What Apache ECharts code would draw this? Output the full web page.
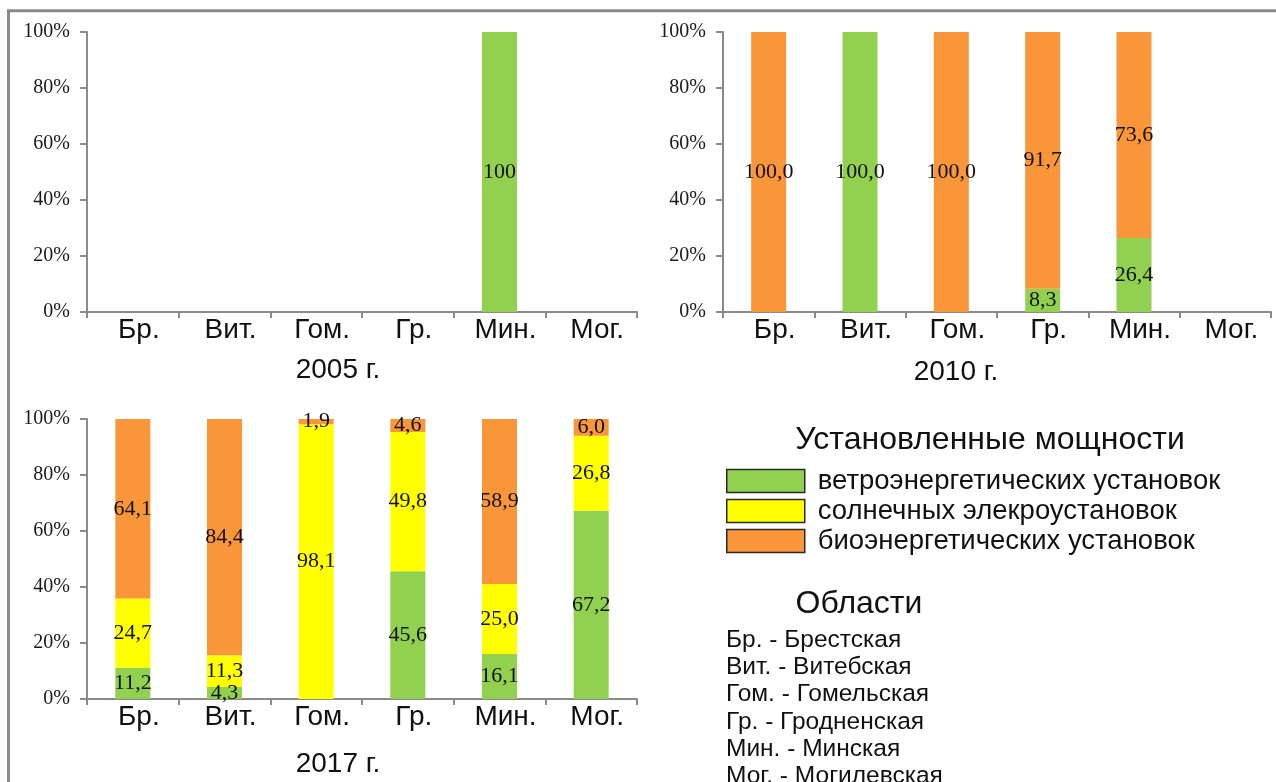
<!DOCTYPE html>
<html>
<head>
<meta charset="utf-8">
<script src="https://cdn.jsdelivr.net/npm/echarts@6/dist/echarts.min.js"></script>
<style>
  html, body { margin: 0; padding: 0; background: #fff; }
  #chart { width: 1276px; height: 782px; }
</style>
</head>
<body>
<div id="chart"></div>
<script>
const regions = ['Бр.', 'Вит.', 'Гом.', 'Гр.', 'Мин.', 'Мог.']
const seriesNames = ['ветроэнергетических установок', 'солнечных элекроустановок', 'биоэнергетических установок']
const years = ['2005 г.', '2010 г.', '2017 г.']
const yTickValues = [0, 20, 40, 60, 80, 100]

// shares, %
const wind2005 = [null, null, null, null, 100, null]
const solar2005 = [null, null, null, null, null, null]
const bio2005 = [null, null, null, null, null, null]

const wind2010 = [null, 100, null, 8.3, 26.4, null]
const solar2010 = [null, null, null, null, null, null]
const bio2010 = [100, null, 100, 91.7, 73.6, null]

const wind2017 = [11.2, 4.3, null, 45.6, 16.1, 67.2]
const solar2017 = [24.7, 11.3, 98.1, 49.8, 25.0, 26.8]
const bio2017 = [64.1, 84.4, 1.9, 4.6, 58.9, 6.0]

const regionNames = [
  'Бр. - Брестская',
  'Вит. - Витебская',
  'Гом. - Гомельская',
  'Гр. - Гродненская',
  'Мин. - Минская',
  'Мог. - Могилевская'
]

const colors = ['#92D050', '#FFFF00', '#F9963A']
const SANS = '"Liberation Sans", Arial, sans-serif'
const SERIF = '"Liberation Serif", "Times New Roman", serif'
const axisColor = '#8a8a8a'

const yearData = [
  { series: [wind2005, solar2005, bio2005], decimals: 0 },
  { series: [wind2010, solar2010, bio2010], decimals: 1 },
  { series: [wind2017, solar2017, bio2017], decimals: 1 }
]

const grids = [
  { left: 87, top: 32, width: 550, height: 280 },
  { left: 723, top: 32, width: 548, height: 280 },
  { left: 87, top: 419, width: 550, height: 280 }
]

const fmt = (v, d) => v.toFixed(d).replace('.', ',')

const xAxes = grids.map((g, i) => ({
  type: 'category',
  gridIndex: i,
  data: regions,
  axisLine: { lineStyle: { color: axisColor, width: 2 } },
  axisTick: { show: true, length: 6, lineStyle: { color: axisColor, width: 2 } },
  axisLabel: {
    interval: 0,
    margin: 4,
    padding: [0, 0, 0, 12],
    color: '#111',
    fontFamily: SANS,
    fontSize: 28
  }
}))

const yAxes = grids.map((g, i) => ({
  type: 'value',
  gridIndex: i,
  min: yTickValues[0],
  max: yTickValues[yTickValues.length - 1],
  interval: yTickValues[1] - yTickValues[0],
  splitLine: { show: false },
  axisLine: { show: true, lineStyle: { color: axisColor, width: 2 } },
  axisTick: { show: true, length: 7, lineStyle: { color: axisColor, width: 2 } },
  axisLabel: {
    formatter: '{value}%',
    margin: 17,
    color: '#1a1a1a',
    fontFamily: SERIF,
    fontSize: 20
  }
}))

const series = []
yearData.forEach((yd, i) => {
  yd.series.forEach((vals, k) => {
    series.push({
      name: seriesNames[k],
      type: 'bar',
      xAxisIndex: i,
      yAxisIndex: i,
      stack: 'y' + i,
      barWidth: 35,
      data: vals,
      itemStyle: { color: colors[k] },
      label: {
        show: true,
        position: 'inside',
        formatter: p => fmt(p.value, yd.decimals),
        color: '#111',
        fontFamily: SERIF,
        fontSize: 22
      }
    })
  })
})

const titlePos = [[338, 370], [956, 372], [338, 764]]
const graphics = [
  {
    type: 'rect', silent: true,
    shape: { x: 8.5, y: 10.8, width: 1400, height: 1000 },
    style: { fill: null, stroke: axisColor, lineWidth: 3 }
  }
]
years.forEach((t, i) => {
  graphics.push({
    type: 'text', x: titlePos[i][0], y: titlePos[i][1],
    style: { text: t, fill: '#111', font: '28px ' + SANS, align: 'center', verticalAlign: 'middle', textAlign: 'center', textVerticalAlign: 'middle' }
  })
})
graphics.push({
  type: 'text', x: 990, y: 440,
  style: { text: 'Установленные мощности', fill: '#111', font: '32px ' + SANS, align: 'center', verticalAlign: 'middle', textAlign: 'center', textVerticalAlign: 'middle' }
})
graphics.push({
  type: 'text', x: 859, y: 604,
  style: { text: 'Области', fill: '#111', font: '32px ' + SANS, align: 'center', verticalAlign: 'middle', textAlign: 'center', textVerticalAlign: 'middle' }
})
regionNames.forEach((t, i) => {
  graphics.push({
    type: 'text', x: 726, y: 640 + i * 27.3,
    style: { text: t, fill: '#111', font: '24.5px ' + SANS, align: 'left', verticalAlign: 'middle', textAlign: 'left', textVerticalAlign: 'middle' }
  })
})

const chart = echarts.init(document.getElementById('chart'), null, { renderer: 'canvas' })
chart.setOption({
  animation: false,
  backgroundColor: '#fff',
  grid: grids,
  xAxis: xAxes,
  yAxis: yAxes,
  legend: {
    data: seriesNames,
    orient: 'vertical',
    left: 726,
    top: 467,
    padding: 0,
    itemWidth: 78,
    itemHeight: 23,
    itemGap: 2,
    icon: 'rect',
    selectedMode: false,
    itemStyle: { borderColor: '#2a2a2a', borderWidth: 1.5 },
    textStyle: { color: '#111', fontFamily: SANS, fontSize: 27.5, lineHeight: 23, padding: [0, 0, 0, 8] }
  },
  graphic: graphics,
  series: series
})
</script>
</body>
</html>
